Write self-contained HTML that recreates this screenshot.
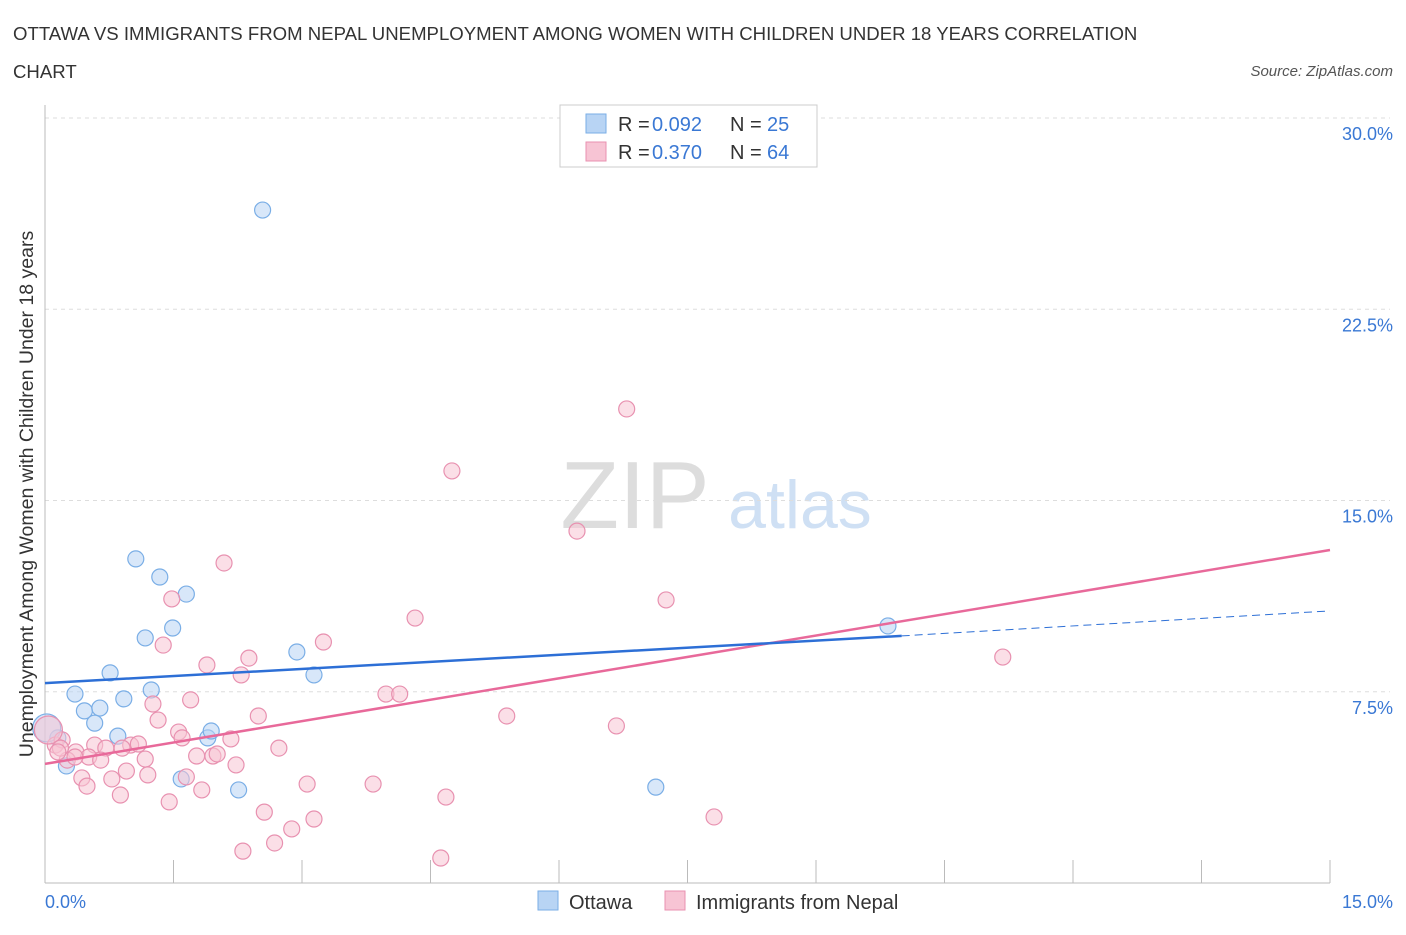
<!DOCTYPE html>
<html><head><meta charset="utf-8"><style>
body{margin:0;background:#fff;font-family:"Liberation Sans",sans-serif}
svg text{font-family:"Liberation Sans",sans-serif}
</style></head><body>
<svg id="c" width="1406" height="930" xmlns="http://www.w3.org/2000/svg">
<text x="13" y="40" font-size="18.6" fill="#333">OTTAWA VS IMMIGRANTS FROM NEPAL UNEMPLOYMENT AMONG WOMEN WITH CHILDREN UNDER 18 YEARS CORRELATION</text>
<text x="13" y="78" font-size="18.6" fill="#333">CHART</text>
<text x="1393" y="76" font-size="15" fill="#555" font-style="italic" text-anchor="end">Source: ZipAtlas.com</text>
<text x="635" y="528" font-size="96" fill="#ddd" font-family="Liberation Serif" text-anchor="middle">ZIP</text>
<text x="800" y="528" font-size="68" fill="#cfe0f4" text-anchor="middle">atlas</text>
<g id="grid"></g><g id="axes"></g><g id="pts"></g><g id="lines"></g>
<text x="33" y="494" font-size="19.5" fill="#333" text-anchor="middle" transform="rotate(-90 33 494)">Unemployment Among Women with Children Under 18 years</text>
<text x="45" y="908" font-size="18" fill="#3a78d4">0.0%</text>
<text x="1393" y="908" font-size="18" fill="#3a78d4" text-anchor="end">15.0%</text>
<g>
<rect x="560" y="105" width="257" height="62" fill="#fff" stroke="#ccc"/>
<rect x="586" y="114" width="20" height="19" fill="#b8d4f4" stroke="#7aaee6"/>
<rect x="586" y="142" width="20" height="19" fill="#f7c4d4" stroke="#e891b0"/>
<text x="618" y="131" font-size="20" fill="#333">R =</text>
<text x="652" y="131" font-size="20" fill="#3a78d4">0.092</text>
<text x="730" y="131" font-size="20" fill="#333">N =</text>
<text x="767" y="131" font-size="20" fill="#3a78d4">25</text>
<text x="618" y="159" font-size="20" fill="#333">R =</text>
<text x="652" y="159" font-size="20" fill="#3a78d4">0.370</text>
<text x="730" y="159" font-size="20" fill="#333">N =</text>
<text x="767" y="159" font-size="20" fill="#3a78d4">64</text>
</g>
<g>
<rect x="538" y="891" width="20" height="19" fill="#b8d4f4" stroke="#7aaee6"/>
<text x="569" y="909" font-size="20" fill="#333">Ottawa</text>
<rect x="665" y="891" width="20" height="19" fill="#f7c4d4" stroke="#e891b0"/>
<text x="696" y="909" font-size="20" fill="#333">Immigrants from Nepal</text>
</g>
</svg>
<script>
const yTicks=[7.5,15,22.5,30];
const yTickLabels=["7.5%","15.0%","22.5%","30.0%"];
const xTicks=[0,1.5,3,4.5,6,7.5,9,10.5,12,13.5,15];
const ottawaX=[2.54,1.06,1.34,1.65,1.17,1.49,0.76,2.94,3.14,1.24,0.92,0.35,0.46,0.64,0.58,0.15,0.02,0.85,1.90,1.94,0.25,1.59,2.26,7.13,9.84];
const ottawaY=[26.39,12.71,12.0,11.33,9.61,10.0,8.24,9.06,8.16,7.57,7.22,7.41,6.75,6.86,6.27,5.69,6.08,5.76,5.69,5.96,4.59,4.08,3.65,3.76,10.08];
const nepalX=[6.79,4.75,6.21,2.09,7.25,1.48,1.38,3.25,4.32,1.89,2.38,2.29,11.18,3.98,4.14,1.70,1.26,2.49,5.39,1.32,6.67,1.56,1.60,2.17,2.73,0.58,1.00,1.09,0.71,0.90,0.12,0.20,0.04,0.36,0.51,0.65,1.17,1.77,1.96,2.01,2.23,0.95,1.20,1.65,0.43,0.78,3.06,3.83,0.49,0.88,1.45,1.83,4.68,2.56,3.14,2.88,7.81,2.68,2.31,4.62,0.26,0.18,0.35,0.15];
const nepalY=[18.59,16.16,13.80,12.55,11.10,11.14,9.33,9.45,10.39,8.55,8.82,8.16,8.86,7.41,7.41,7.18,7.02,6.55,6.55,6.39,6.16,5.92,5.69,5.65,5.29,5.41,5.41,5.45,5.29,5.29,5.41,5.61,6.0,5.14,4.94,4.82,4.86,4.98,4.98,5.06,4.63,4.39,4.24,4.16,4.12,4.08,3.88,3.88,3.80,3.45,3.18,3.65,3.37,2.78,2.51,2.12,2.59,1.57,1.25,0.98,4.82,5.29,4.94,5.14];
const ottawaTrend=[7.84,9.69,10.67]; // y at x=0, x=10, x=15
const nepalTrend=[4.67,13.06]; // y at x=0, x=15
const X=v=>45+v*(1285/15), Y=v=>883-v*25.5;
const NS="http://www.w3.org/2000/svg";
function mk(p,t,a){const e=document.createElementNS(NS,t);for(const k in a)e.setAttribute(k,a[k]);document.getElementById(p).appendChild(e);return e;}
yTicks.forEach((t,i)=>{
 const l=mk('grid','line',{x1:45,x2:1390,y1:Y(t),y2:Y(t),stroke:'#ddd','stroke-dasharray':'4,4'});
 
 
 const tx=mk('grid','text',{x:1393,y:Y(t)+22,'font-size':18,fill:'#3a78d4','text-anchor':'end'});
 tx.textContent=yTickLabels[i];
 
 
});
let a=mk('axes','line',{x1:45,x2:45,y1:105,y2:883,stroke:'#bbb'});


a=mk('axes','line',{x1:45,x2:1330,y1:883,y2:883,stroke:'#bbb'});


xTicks.forEach(t=>{
 const l=mk('axes','line',{x1:X(t),x2:X(t),y1:883,y2:860,stroke:'#bbb'});
 
 
});
function pts(xs,ys,fill,stroke,name){
 xs.forEach((x,i)=>{
  const r=x<0.05?14:8;
  const c=mk('pts','circle',{cx:X(x),cy:Y(ys[i]),r:r,fill:fill,'fill-opacity':0.55,stroke:stroke,'stroke-width':1.2});
  
  
 });
}
pts(ottawaX,ottawaY,'#b8d4f4','#7aaee6','ottawa-point');
pts(nepalX,nepalY,'#f7c4d4','#e891b0','nepal-point');
let t=mk('lines','line',{x1:X(0),y1:Y(nepalTrend[0]),x2:X(15),y2:Y(nepalTrend[1]),stroke:'#e8699a','stroke-width':2.5});


t=mk('lines','line',{x1:X(0),y1:Y(ottawaTrend[0]),x2:X(10),y2:Y(ottawaTrend[1]),stroke:'#2d6fd6','stroke-width':2.5});


t=mk('lines','line',{x1:X(10),y1:Y(ottawaTrend[1]),x2:X(15),y2:Y(ottawaTrend[2]),stroke:'#2d6fd6','stroke-width':1,'stroke-dasharray':'8,5'});


</script>
</body></html>
